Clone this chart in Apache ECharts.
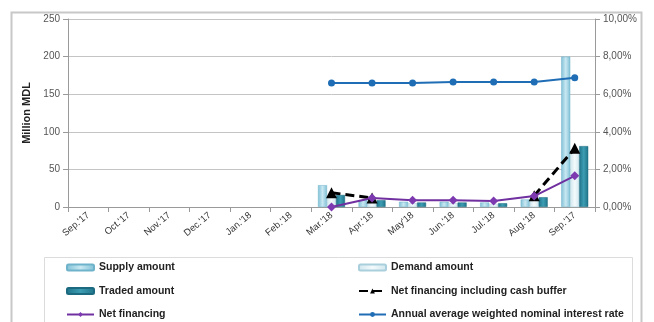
<!DOCTYPE html>
<html>
<head>
<meta charset="utf-8">
<script src="https://cdn.jsdelivr.net/npm/echarts@6/dist/echarts.min.js"></script>
<style>
  html, body { margin: 0; padding: 0; background: #fff; }
  #chart { width: 654px; height: 322px; }
</style>
</head>
<body>
<div id="chart"></div>
<script>
  // data
  var months = ["Sep.'17", "Oct.'17", "Nov.'17", "Dec.'17", "Jan.'18", "Feb.'18",
                "Mar.'18", "Apr.'18", "May'18", "Jun.'18", "Jul.'18", "Aug.'18", "Sep.'17"]
  var supply = [null, null, null, null, null, null, 29, 9, 7, 7, 6, 10, 200]
  var demand = [null, null, null, null, null, null, 14, 7, 5, 5, 4, 9, 75]
  var traded = [null, null, null, null, null, null, 16, 9, 6, 6, 5, 13, 81]
  // May-Jul not visible in the picture (hidden behind net financing)
  var netBuffer = [null, null, null, null, null, null, 19, 12, null, null, null, 15, 78]
  var netFinancing = [null, null, null, null, null, null, 0, 12, 9, 9, 8, 14.5, 41.5]
  var interestRate = [null, null, null, null, null, null, 6.6, 6.6, 6.6, 6.65, 6.65, 6.65, 6.88]

  var legendNames = ['Supply amount', 'Demand amount', 'Traded amount',
                     'Net financing including cash buffer', 'Net financing',
                     'Annual average weighted nominal interest rate']

  var legendFont = {fontFamily: 'Liberation Sans, Arial, sans-serif', fontWeight: 'bold', fontSize: 10.5, color: '#222'}
  var axisColor = '#9a9a9a'

  // one legend per entry, two columns x three rows like the original
  var legends = legendNames.map(function (name, i) {
    return {
      left: i % 2 === 0 ? 66 : 358,
      top: 262 + Math.floor(i / 2) * 23.5,
      itemWidth: 27, itemHeight: 6, itemGap: 3,
      padding: 0,
      textStyle: legendFont,
      data: [name]
    }
  })

  var myChart = echarts.init(document.getElementById('chart'))
  myChart.setOption({
    animation: false,
    grid: {left: 68, right: 59, top: 19, bottom: 115},
    graphic: [
      {type: 'rect', shape: {x: 11.5, y: 12.5, width: 630, height: 330}, style: {fill: 'none', stroke: '#c8c8c8', lineWidth: 2}, z: -10},
      {type: 'rect', shape: {x: 44.5, y: 257.5, width: 588, height: 80}, style: {fill: '#fff', stroke: '#dcdcdc', lineWidth: 1}, z: -5}
    ],
    legend: legends,
    xAxis: {
      type: 'category',
      data: months,
      axisLine: {lineStyle: {color: axisColor}},
      axisTick: {show: true, alignWithLabel: false, lineStyle: {color: axisColor}},
      axisLabel: {rotate: 40, fontSize: 9.5, color: '#333', fontFamily: 'Liberation Sans, Arial, sans-serif', margin: 7}
    },
    yAxis: [
      {
        type: 'value', min: 0, max: 250, interval: 50,
        name: 'Million MDL', nameLocation: 'middle', nameGap: 36,
        nameTextStyle: {fontSize: 11, fontWeight: 'bold', color: '#222', fontFamily: 'Liberation Sans, Arial, sans-serif'},
        axisLine: {show: true, lineStyle: {color: axisColor}},
        axisTick: {show: true, lineStyle: {color: axisColor}},
        axisLabel: {fontSize: 10, color: '#555', fontFamily: 'Liberation Sans, Arial, sans-serif'},
        splitLine: {lineStyle: {color: '#c4c4c4'}}
      },
      {
        type: 'value', min: 0, max: 10, interval: 2,
        axisLine: {show: true, lineStyle: {color: axisColor}},
        axisTick: {show: true, lineStyle: {color: axisColor}},
        axisLabel: {
          fontSize: 10, color: '#555', fontFamily: 'Liberation Sans, Arial, sans-serif',
          formatter: function (v) { return v.toFixed(2).replace('.', ',') + '%' }
        },
        splitLine: {show: false}
      }
    ],
    series: [
      {
        name: 'Supply amount', type: 'bar', data: supply, barWidth: 9, barGap: '0%',
        itemStyle: {
          color: new echarts.graphic.LinearGradient(0, 0, 1, 0, [
            {offset: 0, color: '#7fc0d6'}, {offset: 0.5, color: '#c9e8f2'}, {offset: 1, color: '#7fc0d6'}
          ]),
          borderColor: '#6fb3cb', borderWidth: 0.5
        }
      },
      {
        name: 'Demand amount', type: 'bar', data: demand, barWidth: 9,
        itemStyle: {
          color: new echarts.graphic.LinearGradient(0, 0, 1, 0, [
            {offset: 0, color: '#cfe6ee'}, {offset: 0.5, color: '#f4fafc'}, {offset: 1, color: '#cfe6ee'}
          ]),
          borderColor: '#a9cfdc', borderWidth: 0.5
        }
      },
      {
        name: 'Traded amount', type: 'bar', data: traded, barWidth: 9,
        itemStyle: {
          color: new echarts.graphic.LinearGradient(0, 0, 1, 0, [
            {offset: 0, color: '#1f7389'}, {offset: 0.5, color: '#3d9db3'}, {offset: 1, color: '#1f7389'}
          ]),
          borderColor: '#1c6a7f', borderWidth: 0.5
        }
      },
      {
        name: 'Net financing including cash buffer', type: 'line', data: netBuffer,
        symbol: 'triangle', symbolSize: 11,
        lineStyle: {color: '#000', width: 3, type: [9, 5]},
        itemStyle: {color: '#000'}
      },
      {
        name: 'Net financing', type: 'line', data: netFinancing,
        symbol: 'diamond', symbolSize: 9,
        lineStyle: {color: '#7030a0', width: 2},
        itemStyle: {color: '#7d3ab0'}
      },
      {
        name: 'Annual average weighted nominal interest rate', type: 'line', yAxisIndex: 1, data: interestRate,
        symbol: 'circle', symbolSize: 7,
        lineStyle: {color: '#1f6db5', width: 2},
        itemStyle: {color: '#1f6db5'}
      }
    ]
  })
</script>
</body>
</html>
